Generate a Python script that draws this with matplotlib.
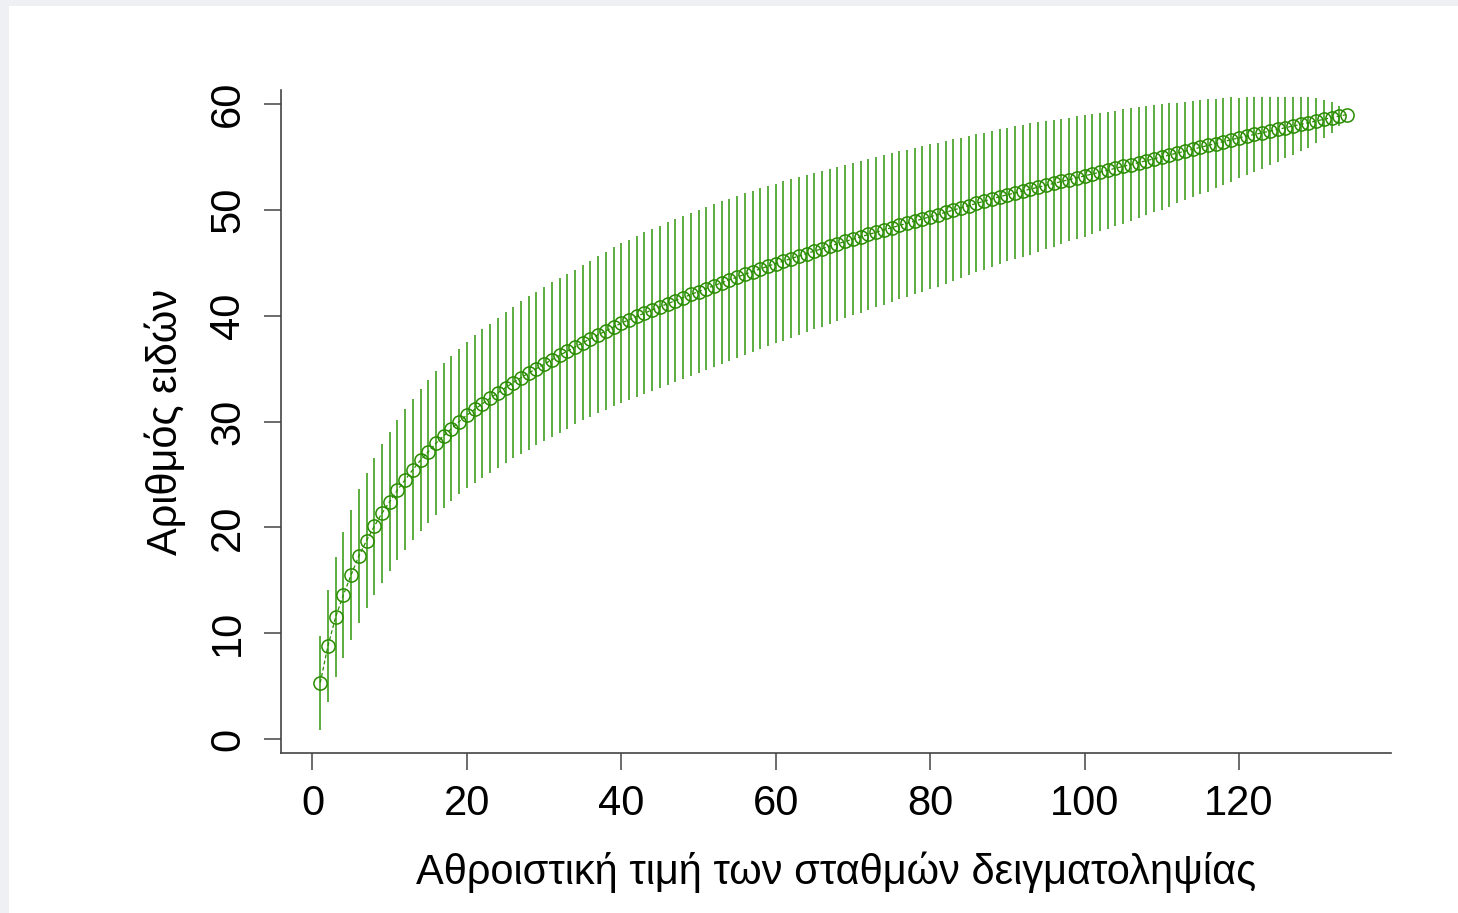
import matplotlib
matplotlib.use("Agg")
import matplotlib.pyplot as plt
from matplotlib.patches import Rectangle
import numpy as np

plt.rcParams['font.family'] = ['Liberation Sans', 'DejaVu Sans']

# Number of sampling sites (cumulative)
sites = list(range(1, 135))

# Mean species richness
richness = [
    5.32, 8.79, 11.53, 13.61, 15.50, 17.29, 18.75, 20.10, 21.33, 22.43,
    23.52, 24.50, 25.45, 26.35, 27.15, 27.95, 28.65, 29.32, 30.00, 30.60,
    31.15, 31.68, 32.20, 32.70, 33.20, 33.68, 34.14, 34.58, 35.00, 35.42,
    35.84, 36.25, 36.65, 37.05, 37.44, 37.83, 38.20, 38.57, 38.94, 39.30,
    39.62, 39.93, 40.24, 40.54, 40.84, 41.13, 41.42, 41.71, 42.00, 42.28,
    42.56, 42.84, 43.11, 43.38, 43.65, 43.91, 44.17, 44.43, 44.68, 44.92,
    45.16, 45.40, 45.64, 45.87, 46.10, 46.33, 46.56, 46.79, 47.01, 47.23,
    47.45, 47.67, 47.89, 48.10, 48.31, 48.52, 48.73, 48.94, 49.14, 49.34,
    49.55, 49.76, 49.97, 50.18, 50.39, 50.60, 50.82, 51.03, 51.24, 51.42,
    51.60, 51.78, 51.96, 52.14, 52.32, 52.50, 52.68, 52.86, 53.03, 53.20,
    53.38, 53.56, 53.74, 53.92, 54.10, 54.28, 54.46, 54.64, 54.82, 55.00,
    55.18, 55.36, 55.54, 55.72, 55.90, 56.08, 56.26, 56.44, 56.62, 56.80,
    56.96, 57.12, 57.28, 57.44, 57.60, 57.76, 57.92, 58.08, 58.24, 58.40,
    58.56, 58.71, 58.86, 59.00,
]

# Half-width of the confidence bars (2 x sd)
ci = [
    4.46, 5.28, 5.70, 5.95, 6.14, 6.33, 6.41, 6.46, 6.55, 6.57,
    6.59, 6.65, 6.68, 6.72, 6.76, 6.80, 6.83, 6.86, 6.88, 6.90,
    7.00, 7.02, 7.02, 7.10, 7.12, 7.12, 7.20, 7.25, 7.26, 7.28,
    7.30, 7.31, 7.32, 7.30, 7.33, 7.36, 7.40, 7.45, 7.50, 7.55,
    7.57, 7.60, 7.62, 7.64, 7.66, 7.68, 7.70, 7.70, 7.71, 7.71,
    7.70, 7.70, 7.69, 7.68, 7.66, 7.64, 7.62, 7.60, 7.57, 7.55,
    7.52, 7.49, 7.46, 7.43, 7.40, 7.36, 7.32, 7.28, 7.24, 7.20,
    7.17, 7.13, 7.10, 7.06, 7.03, 6.99, 6.95, 6.92, 6.88, 6.85,
    6.80, 6.74, 6.69, 6.63, 6.58, 6.52, 6.46, 6.40, 6.35, 6.30,
    6.28, 6.25, 6.20, 6.15, 6.05, 6.00, 5.93, 5.85, 5.80, 5.75,
    5.63, 5.58, 5.52, 5.45, 5.40, 5.32, 5.25, 5.15, 5.06, 4.98,
    4.88, 4.75, 4.65, 4.55, 4.43, 4.35, 4.20, 4.08, 4.00, 3.80,
    3.71, 3.55, 3.39, 3.23, 3.07, 2.90, 2.70, 2.55, 2.38, 2.12,
    1.80, 1.45, 0.95, 0.00,
]

x_ticks = [0, 20, 40, 60, 80, 100, 120]
y_ticks = [0, 10, 20, 30, 40, 50, 60]
x_label = "Αθροιστική τιμή των σταθμών δειγματοληψίας"
y_label = "Αριθμός ειδών"

W, H = 1458, 913
fig = plt.figure(figsize=(W / 100, H / 100), dpi=100)
fig.patch.set_facecolor('#eef0f3')
fig.patches.append(Rectangle((9 / W, 0), (W - 9) / W, (H - 6) / H,
                             transform=fig.transFigure, facecolor='white',
                             edgecolor='none', zorder=-10))

left, right, top, bottom = 281, 1390.7, 90, 753
ax = fig.add_axes([left / W, 1 - bottom / H, (right - left) / W, (bottom - top) / H])
ax.set_facecolor('none')

ax.errorbar(sites, richness, yerr=ci, fmt='none', ecolor='#3f9f20',
            elinewidth=1.2, capsize=0, zorder=2)
ax.plot(sites, richness, ls=(0, (3, 2)), lw=0.9, color='#2a8c00',
        marker='o', ms=9.5, mfc='none', mec='#2a8c00', mew=1.1, zorder=3)

ax.set_xlim(-4.08, 139.66)
ax.set_ylim(-1.32, 61.32)

for s in ['top', 'right']:
    ax.spines[s].set_visible(False)
for s in ['left', 'bottom']:
    ax.spines[s].set_color('#444444')
    ax.spines[s].set_linewidth(1.2)

ax.set_xticks(x_ticks)
ax.set_yticks(y_ticks)
ax.tick_params(axis='both', length=12.5, width=1.1, color='#444444',
               labelsize=30, labelcolor='black')
ax.tick_params(axis='x', pad=9.5)
ax.tick_params(axis='y', pad=11)
for lab in ax.get_yticklabels():
    lab.set_rotation(90)
    lab.set_va('center')

ax.set_xlabel(x_label, fontsize=30, labelpad=20)
ax.set_ylabel(y_label, fontsize=30, labelpad=16)

fig.savefig('out.png', dpi=100)
